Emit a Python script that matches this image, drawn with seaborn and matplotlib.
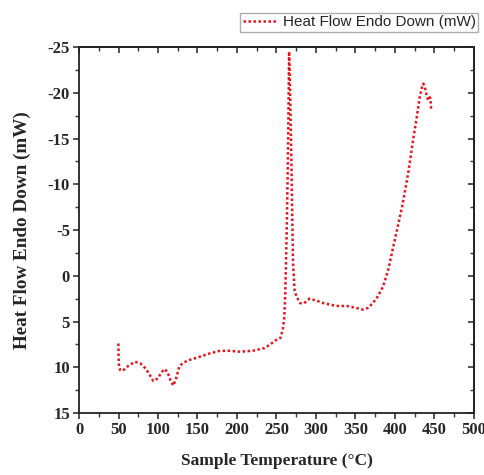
import matplotlib
matplotlib.use("Agg")
import matplotlib.pyplot as plt
import seaborn as sns
import pandas as pd
from matplotlib.ticker import MultipleLocator

temperature = [49.8, 50.0, 50.5, 52.0, 54.0, 58.0, 63.0, 71.0, 78.0, 85.0, 90.0, 94.0,
               100.0, 104.0, 108.0, 112.0, 116.0, 119.4, 123.0, 127.0, 132.0, 140.0,
               153.0, 165.0, 178.5, 190.0, 204.0, 220.0, 235.0, 242.0, 250.0, 255.0,
               258.0, 260.0, 261.0, 262.0, 263.0, 264.0, 265.0, 266.0, 267.0, 268.0,
               269.0, 270.0, 271.0, 273.0, 275.5, 280.0, 285.0, 292.0, 300.0, 310.0,
               326.0, 339.0, 350.0, 360.0, 366.0, 372.0, 378.0, 385.0, 392.0, 398.0,
               404.0, 410.0, 417.0, 423.0, 428.0, 431.6, 434.0, 436.0, 438.0, 440.0,
               442.0, 444.0, 445.0, 446.0]
heat_flow = [7.4, 8.5, 9.9, 10.3, 10.4, 10.2, 9.8, 9.4, 9.6, 10.2, 10.9, 11.5,
             11.2, 10.6, 10.2, 10.5, 11.5, 12.0, 11.2, 9.9, 9.5, 9.2,
             8.85, 8.5, 8.2, 8.2, 8.3, 8.2, 7.9, 7.5, 7.0, 6.8,
             5.9, 4.5, 2.3, -1.0, -5.0, -10.0, -16.0, -24.5, -21.5, -17.0,
             -12.3, -6.5, -1.4, 1.6, 2.3, 3.0, 3.0, 2.5, 2.7, 3.0,
             3.3, 3.3, 3.5, 3.7, 3.5, 3.0, 2.3, 1.2, -0.8, -3.2,
             -5.5, -7.9, -11.3, -14.8, -17.5, -19.6, -20.5, -21.0, -20.6, -19.8,
             -19.2, -19.5, -19.4, -18.1]

xticks = [0, 50, 100, 150, 200, 250, 300, 350, 400, 450, 500]
yticks = [-25, -20, -15, -10, -5, 0, 5, 10, 15]
legend_label = "Heat Flow Endo Down (mW)"

df = pd.DataFrame({"T": temperature, "HF": heat_flow})

sns.set_theme(style="white")
plt.rcParams["font.family"] = ["Liberation Serif", "DejaVu Serif"]

fig = plt.figure(figsize=(4.85, 4.75), dpi=100)
ax = fig.add_axes([0.163, 0.1305, 0.814, 0.7705])

sns.lineplot(data=df, x="T", y="HF", ax=ax, color="#e8121c", linestyle=(0, (1, 1)),
             linewidth=1.8, label=legend_label, sort=False, estimator=None)

ax.set_xlim(0, 500)
ax.set_ylim(15, -25)
ax.set_xticks(xticks)
ax.set_yticks(yticks)
ax.xaxis.set_minor_locator(MultipleLocator(25))
ax.yaxis.set_minor_locator(MultipleLocator(2.5))
ax.set_xticklabels([str(t) for t in xticks], fontweight="bold", fontsize=12)
ax.set_yticklabels([str(t) for t in yticks], fontweight="bold", fontsize=12)
ax.tick_params(which="major", direction="out", length=4.5, width=1.2, color="#333333", pad=2,
               bottom=True, left=True)
ax.tick_params(which="minor", direction="out", length=3, width=1.0, color="#333333",
               bottom=True, left=True)
for s in ax.spines.values():
    s.set_color("#222222")
    s.set_linewidth(1.3)

# mirrored inward ticks on top/right
top = ax.secondary_xaxis("top")
top.set_xticks(xticks)
top.xaxis.set_minor_locator(MultipleLocator(25))
top.tick_params(which="major", direction="in", length=4.5, width=1.2, color="#333333", labeltop=False)
top.tick_params(which="minor", direction="in", length=3, width=1.0, color="#333333")
top.spines["top"].set_linewidth(1.3)
right = ax.secondary_yaxis("right")
right.set_yticks(yticks)
right.yaxis.set_minor_locator(MultipleLocator(2.5))
right.tick_params(which="major", direction="in", length=4.5, width=1.2, color="#333333", labelright=False)
right.tick_params(which="minor", direction="in", length=3, width=1.0, color="#333333")
right.spines["right"].set_linewidth(1.3)

ax.set_xlabel("Sample Temperature (°C)", fontweight="bold", fontsize=12.5, labelpad=11)
ax.set_ylabel("Heat Flow Endo Down (mW)", fontweight="bold", fontsize=13.8, labelpad=12)

leg = ax.legend(loc="upper right", bbox_to_anchor=(1.01, 1.093), frameon=True, fancybox=False,
                prop={"family": "Liberation Sans", "size": 11}, handlelength=2.3,
                borderpad=0.15, handletextpad=0.3, borderaxespad=0)
leg.get_frame().set_edgecolor("#999999")
leg.get_frame().set_linewidth(1.0)

fig.savefig("out.png", dpi=100)
